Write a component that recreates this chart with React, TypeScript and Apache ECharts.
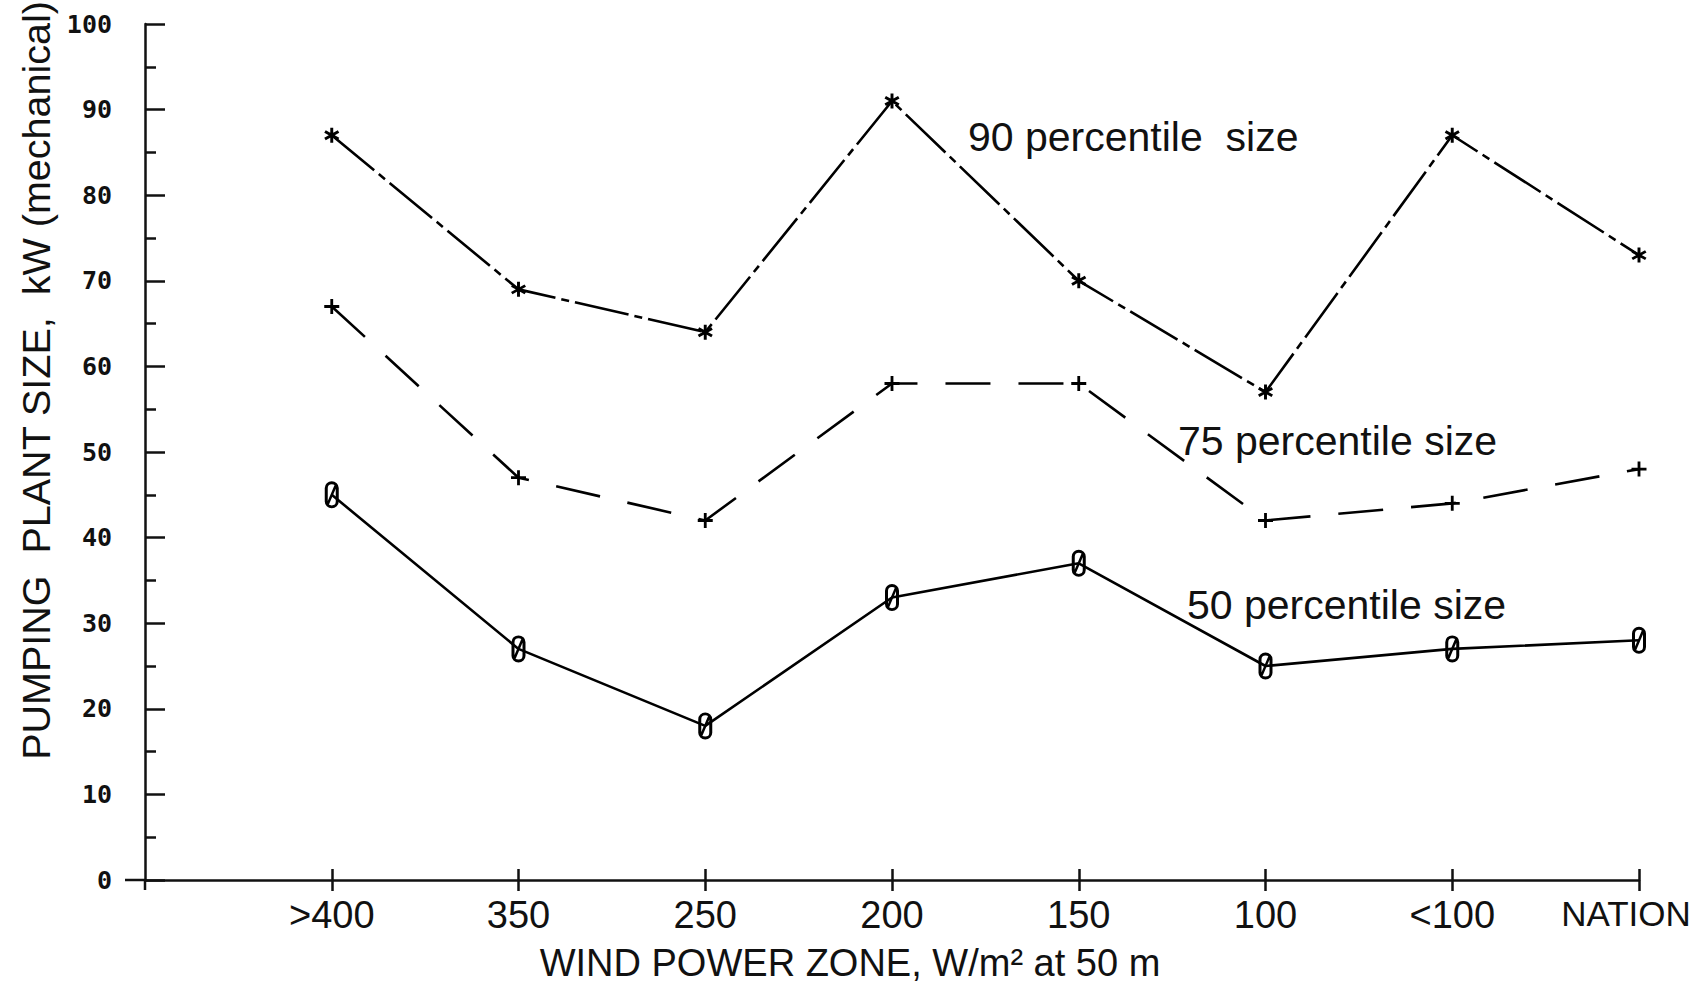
import React, { useEffect, useRef } from 'react';
import * as echarts from 'echarts';

// ---- data ----
const zones = ['>400', '350', '250', '200', '150', '100', '<100', 'NATION'];
const p90 = [87, 69, 64, 91, 70, 57, 87, 73];
const p75 = [67, 47, 42, 58, 58, 42, 44, 48];
const p50 = [45, 27, 18, 33, 37, 25, 27, 28];
const yMin = 0;
const yMax = 100;
const yStep = 10;

const seriesNames = ['90 percentile size', '75 percentile size', '50 percentile size'];

// ---- layout / style ----
const W = 1703;
const H = 986;
const GRID = { left: 145, top: 24, right: 64, bottom: 106 };
const INK = '#111';

const annotations = [
  { text: '90 percentile  size', x: 968, y: 137 },
  { text: '75 percentile size', x: 1178, y: 441 },
  { text: '50 percentile size', x: 1187, y: 605 },
];

const SYM_STAR =
  'path://M6.5,0 L9.5,0 L9.5,16 L6.5,16 Z M0.322,5.299 L1.822,2.701 L15.678,10.701 L14.178,13.299 Z M14.178,2.701 L15.678,5.299 L1.822,13.299 L0.322,10.701 Z';
const SYM_PLUS =
  'path://M6.5,0 L9.5,0 L9.5,6.5 L16,6.5 L16,9.5 L9.5,9.5 L9.5,16 L6.5,16 L6.5,9.5 L0,9.5 L0,6.5 L6.5,6.5 Z';
const SYM_ZERO =
  'path://M0,7 A7,7 0 0 1 14,7 L14,21 A7,7 0 0 1 0,21 Z M3,7 L3,21 A4,4 0 0 0 11,21 L11,7 A4,4 0 0 0 3,7 Z M12.66,3.47 L3.66,25.47 L1.34,24.53 L10.34,2.53 Z';

export default function App() {
  const ref = useRef<HTMLDivElement>(null);

  useEffect(() => {
    if (!ref.current) return;
    const chart = echarts.init(ref.current, null, { renderer: 'svg' });

    const axisData: any[] = [''].concat(zones as any).map((z: any) =>
      z === 'NATION'
        ? { value: z, textStyle: { fontSize: 35, padding: [0, 26, 0, 0] } }
        : z
    );
    const toData = (vals: number[]) => vals.map((v, i) => [i + 1, v]);
    const skipFirst = (index: number) => index !== 0;

    const baseSeries = {
      type: 'line',
      xAxisIndex: 0,
      yAxisIndex: 0,
      itemStyle: { color: '#000' },
      emphasis: { disabled: true },
      z: 5,
    };

    chart.setOption({
      animation: false,
      backgroundColor: '#fff',
      grid: {
        left: GRID.left,
        top: GRID.top,
        right: GRID.right,
        bottom: GRID.bottom,
        containLabel: false,
        outerBoundsMode: 'none',
      },
      xAxis: [
        {
          type: 'category',
          data: axisData,
          boundaryGap: false,
          axisLine: { show: true, onZero: false, lineStyle: { color: INK, width: 2.5 } },
          axisTick: { show: true, length: 11, interval: skipFirst, lineStyle: { color: INK, width: 2.5 } },
          axisLabel: {
            show: true,
            interval: skipFirst,
            margin: 16,
            fontFamily: 'Liberation Sans',
            fontSize: 38,
            color: INK,
          },
          splitLine: { show: false },
          name: 'WIND POWER ZONE, W/m² at 50 m',
          nameLocation: 'middle',
          nameGap: 64,
          nameTextStyle: {
            fontFamily: 'Liberation Sans',
            fontSize: 38,
            color: INK,
            padding: [0, 84, 0, 0],
          },
        },
        {
          type: 'category',
          data: axisData,
          boundaryGap: false,
          position: 'bottom',
          axisLine: { show: false },
          axisTick: { show: true, inside: true, length: 11, interval: skipFirst, lineStyle: { color: INK, width: 2.5 } },
          axisLabel: { show: false },
          splitLine: { show: false },
        },
      ],
      yAxis: {
        type: 'value',
        min: yMin,
        max: yMax,
        interval: yStep,
        axisLine: { show: true, lineStyle: { color: INK, width: 2.5 } },
        axisTick: { show: true, inside: true, length: 20, lineStyle: { color: INK, width: 2.5 } },
        minorTick: { show: true, splitNumber: 2, length: 11, lineStyle: { color: INK, width: 2.5 } },
        splitLine: { show: false },
        minorSplitLine: { show: false },
        axisLabel: {
          margin: 33,
          fontFamily: 'DejaVu Sans Mono',
          fontWeight: 'bold',
          fontSize: 25,
          color: INK,
        },
        name: 'PUMPING  PLANT SIZE,  kW (mechanical)',
        nameLocation: 'middle',
        nameGap: 85,
        nameTextStyle: {
          fontFamily: 'Liberation Sans',
          fontSize: 39.5,
          color: INK,
          padding: [0, 0, 0, 143],
        },
      },
      series: [
        {
          ...baseSeries,
          name: seriesNames[0],
          data: toData(p90),
          symbol: SYM_STAR,
          symbolSize: 15,
          lineStyle: { color: '#000', width: 2.6, type: [55, 6, 8, 6] },
        },
        {
          ...baseSeries,
          name: seriesNames[1],
          data: toData(p75),
          symbol: SYM_PLUS,
          symbolSize: 15,
          lineStyle: { color: '#000', width: 2.6, type: [45, 28] },
        },
        {
          ...baseSeries,
          name: seriesNames[2],
          data: toData(p50),
          symbol: SYM_ZERO,
          symbolSize: [14, 27],
          lineStyle: { color: '#000', width: 2.6, type: 'solid' },
        },
      ],
      graphic: [
        // small extensions of the axes past the origin
        {
          type: 'line',
          shape: { x1: GRID.left - 20, y1: H - GRID.bottom, x2: GRID.left, y2: H - GRID.bottom },
          style: { stroke: INK, lineWidth: 2.5 },
        },
        {
          type: 'line',
          shape: { x1: GRID.left, y1: H - GRID.bottom, x2: GRID.left, y2: H - GRID.bottom + 10 },
          style: { stroke: INK, lineWidth: 2.5 },
        },
        ...annotations.map((a) => ({
          type: 'text',
          x: a.x,
          y: a.y,
          style: {
            text: a.text,
            fontFamily: 'Liberation Sans',
            fontSize: 41,
            fill: INK,
            verticalAlign: 'middle',
            align: 'left',
          },
        })),
      ],
    });

    return () => chart.dispose();
  }, []);

  return (
    <div
      ref={ref}
      style={{ position: 'absolute', left: 0, top: 0, width: W, height: H, background: '#fff' }}
    />
  );
}
